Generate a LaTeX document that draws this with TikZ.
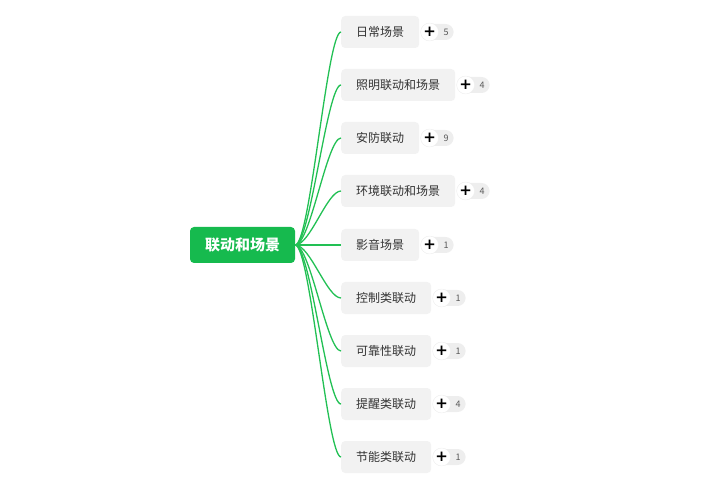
\documentclass[tikz,border=0pt]{standalone}
\usepackage{fontspec}
\setmainfont{Noto Sans CJK SC}
\newfontfamily\symb{DejaVu Sans}
\usetikzlibrary{shapes}
\usetikzlibrary{positioning}
\definecolor{vert}{RGB}{22,186,78}
\definecolor{trait}{RGB}{34,192,84}
\definecolor{fond}{RGB}{242,242,242}
\definecolor{pastille}{RGB}{238,238,238}
\definecolor{texte}{RGB}{51,51,51}
\begin{document}
\begin{tikzpicture}[x=1pt,y=-1pt]
\tikzstyle{racine}=[rectangle,rounded corners=4pt,fill=vert,text=white,
        font=\fontsize{15}{15}\selectfont\bfseries,
        minimum width=105pt,minimum height=36pt,inner sep=0pt]
\tikzstyle{theme}=[rectangle,rounded corners=4pt,fill=fond,text=texte,
        font=\fontsize{12}{12}\selectfont,anchor=west,
        minimum height=32pt,inner xsep=15pt,inner ysep=0pt]
\tikzstyle{compte}=[rectangle,rounded corners=8pt,fill=pastille,text=black!65,
        font=\fontsize{9}{9}\selectfont,minimum height=16pt,
        text width=21pt,align=right,inner xsep=5pt,inner ysep=0pt]
\tikzstyle{plus}=[circle,fill=white,draw=black!7,minimum size=18pt,
        inner sep=0pt,font=\symb\fontsize{15}{15}\selectfont\bfseries]
%styledesbranches
\tikzstyle{branche}=[draw=trait,line width=1.3pt]
\useasboundingbox (0,0) rectangle (720,486);
%placementdesnœuds
\node[racine] (racine) at (242.5,245) {联动和场景};
\node[theme] (c1) at (341,32) {日常场景};
\node[theme] (c2) at (341,85) {照明联动和场景};
\node[theme] (c3) at (341,138) {安防联动};
\node[theme] (c4) at (341,191) {环境联动和场景};
\node[theme] (c5) at (341,245) {影音场景};
\node[theme] (c6) at (341,298) {控制类联动};
\node[theme] (c7) at (341,351) {可靠性联动};
\node[theme] (c8) at (341,404) {提醒类联动};
\node[theme] (c9) at (341,457) {节能类联动};
%pastilles
\foreach \i/\n in {1/5,2/4,3/9,4/4,5/1,6/1,7/1,8/4,9/1}{
  \node[compte,right=3pt of c\i] (n\i) {\n};
  \node[plus,right=1pt of c\i] (p\i) {\raisebox{-0.8pt}{+}};
}
%placementdesbranches
\foreach \i in {1,...,9}
  \draw[branche] (racine.east) .. controls +(15,0) and +(-14,0) .. (c\i.west);
\end{tikzpicture}
\end{document}
